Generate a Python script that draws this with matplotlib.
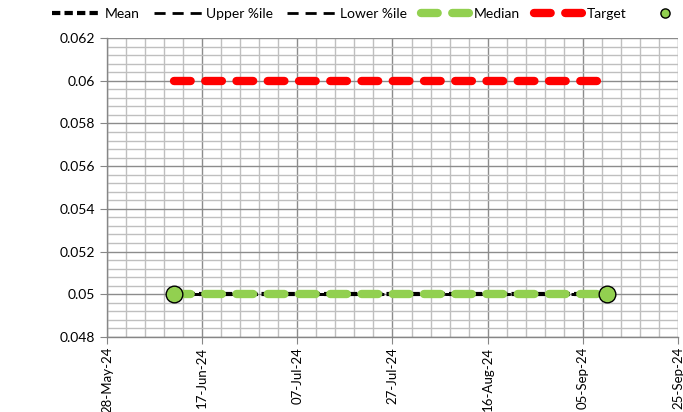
import matplotlib
matplotlib.use("Agg")
import matplotlib.pyplot as plt
import matplotlib.dates as mdates
from matplotlib.ticker import FuncFormatter, MultipleLocator
import pandas as pd

plt.rcParams['font.family'] = ['Lato', 'DejaVu Sans']

# Weekly observation dates
dates = pd.date_range("2024-06-11", "2024-09-10", freq="7D")
mean_vals = [0.05] * len(dates)
upper_vals = [0.05] * len(dates)
lower_vals = [0.05] * len(dates)
median_vals = [0.05] * len(dates)
target_vals = [0.06] * len(dates)

# First and latest observation markers
point_dates = [dates[0], dates[-1]]
point_vals = [0.05, 0.05]

x_start = pd.Timestamp("2024-05-28")
x_end = pd.Timestamp("2024-09-25")
y_min, y_max = 0.048, 0.062

fig = plt.figure(figsize=(6.83, 4.12), dpi=100)
ax = fig.add_axes([107 / 683, 1 - 337 / 412, (678 - 107) / 683, (337 - 38) / 412])

ax.plot(dates, upper_vals, color="black", lw=2.0, ls=(0, (4, 2.5)), zorder=3, label="Upper %ile")
ax.plot(dates, lower_vals, color="black", lw=2.0, ls=(0, (4, 2.5)), zorder=3, label="Lower %ile")
ax.plot(dates, mean_vals, color="black", lw=3.0, ls=(0, (2.0, 1.0)), zorder=4, label="Mean")
ax.plot(dates, median_vals, color="#92d050", lw=6.0, ls=(0, (2.0, 1.75)),
        dash_capstyle="round", zorder=5, label="Median")
ax.plot(dates, target_vals, color="#ff0000", lw=6.0, ls=(0, (2.0, 1.75)),
        dash_capstyle="round", zorder=5, label="Target")
ax.plot(point_dates, point_vals, ls="none", marker="o", ms=12, mfc="#92d050",
        mec="black", mew=1.0, zorder=6, label=" ", clip_on=False)

ax.set_xlim(x_start, x_end)
ax.set_ylim(y_min, y_max)

major_x = pd.date_range(x_start, x_end, freq="20D")
minor_x = pd.date_range(x_start, x_end, freq="4D")
ax.set_xticks(mdates.date2num(major_x))
ax.set_xticks(mdates.date2num(minor_x), minor=True)
ax.xaxis.set_major_formatter(mdates.DateFormatter("%d-%b-%y"))
ax.yaxis.set_major_locator(MultipleLocator(0.002))
ax.yaxis.set_minor_locator(MultipleLocator(0.0004))
ax.yaxis.set_major_formatter(FuncFormatter(lambda v, p: f"{v:g}"))

ax.grid(True, which="major", color="#8c8c8c", lw=1.0, zorder=0)
ax.grid(True, which="minor", color="#bfbfbf", lw=1.0, zorder=0)
ax.set_axisbelow(True)

for side in ("top", "right"):
    ax.spines[side].set_visible(False)
for side in ("left", "bottom"):
    ax.spines[side].set_color("#868686")
    ax.spines[side].set_linewidth(1.0)

ax.tick_params(axis="both", which="major", direction="out", length=5, color="#868686",
               labelcolor="black")
ax.tick_params(axis="y", which="major", labelsize=10)
ax.tick_params(axis="x", which="major", labelsize=9.5, labelrotation=90, pad=2)
ax.tick_params(axis="both", which="minor", length=0)

handles, labels = ax.get_legend_handles_labels()
order = ["Mean", "Upper %ile", "Lower %ile", "Median", "Target", " "]
h = [handles[labels.index(o)] for o in order]
fig.legend(h, order, loc="center left", bbox_to_anchor=(52 / 683, 1 - 14 / 412), ncol=6,
           frameon=False, fontsize=10, handlelength=3.6, handletextpad=0.2,
           columnspacing=1.0, markerscale=0.55, borderpad=0, borderaxespad=0)

fig.savefig("out.png", dpi=100)
